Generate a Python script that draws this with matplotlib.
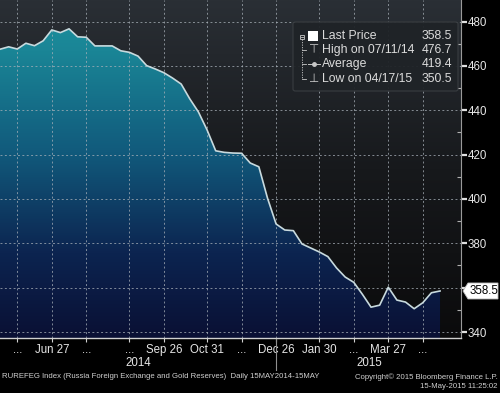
import numpy as np
import pandas as pd
import matplotlib
matplotlib.use("Agg")
import matplotlib.pyplot as plt
import matplotlib.dates as mdates
from matplotlib.colors import LinearSegmentedColormap
from matplotlib.patches import FancyBboxPatch, Rectangle, Polygon

plt.rcParams['font.family'] = ['Liberation Sans', 'DejaVu Sans']

# ---------------- data ----------------
start_date = "2014-05-16"
values = [467.5, 468.6, 467.6, 470.2, 469.1, 471.3, 476.2, 475.0, 476.7, 473.1,
          472.9, 469.0, 469.0, 469.0, 466.8, 466.1, 464.4, 460.1, 458.6, 456.9,
          454.5, 451.8, 445.1, 439.2, 431.1, 421.7, 421.0, 420.7, 420.6, 416.2,
          414.5, 400.4, 388.7, 386.0, 385.7, 379.7, 377.9, 376.1, 374.0, 368.9,
          364.8, 362.4, 357.0, 351.2, 352.1, 360.2, 354.4, 353.5, 350.5, 353.2,
          357.7, 358.5]
dates = pd.date_range(start_date, periods=len(values), freq="W-FRI")

tick_dates = ["2014-05-30", "2014-06-27", "2014-07-25", "2014-08-29", "2014-09-26",
              "2014-10-31", "2014-11-28", "2014-12-26", "2015-01-30", "2015-02-27",
              "2015-03-27", "2015-04-24"]
tick_labels = ["...", "Jun 27", "...", "...", "Sep 26", "Oct 31", "...",
               "Dec 26", "Jan 30", "...", "Mar 27", "..."]
y_ticks = [340, 360, 380, 400, 420, 440, 460, 480]
y_tick_labels = ["340", "", "380", "400", "420", "440", "460", "480"]

legend_names = ["Last Price", "High on 07/11/14", "Average", "Low on 04/17/15"]
legend_values = ["358.5", "476.7", "419.4", "350.5"]
last_value = "358.5"

# ---------------- figure ----------------
W, H = 500, 393
fig = plt.figure(figsize=(W / 100, H / 100), dpi=100, facecolor="black")
ax_l, ax_r, ax_b, ax_t = 0, 461, 338, 0
ax = fig.add_axes([ax_l / W, 1 - ax_b / H, (ax_r - ax_l) / W, (ax_b - ax_t) / H])
ax.set_facecolor("black")

x = mdates.date2num(dates.to_pydatetime())
xmin = mdates.date2num(pd.Timestamp("2014-05-16"))
xmax = mdates.date2num(pd.Timestamp("2015-05-25"))
ymin, ymax = 337.3, 489.7
ax.set_xlim(xmin, xmax)
ax.set_ylim(ymin, ymax)

# background gradient
bg_cmap = LinearSegmentedColormap.from_list("bg", ["#0b0b0c", "#17191c", "#2a2f35"])
grad = np.linspace(0, 1, 256).reshape(-1, 1)
ax.imshow(grad, aspect="auto", cmap=bg_cmap, origin="lower",
          extent=[xmin, xmax, ymin, ymax], zorder=0)

# fill gradient clipped to area under curve
fill_cmap = LinearSegmentedColormap.from_list(
    "fill", [(0, "#0a1034"), (0.25, "#0c2450"), (0.55, "#115a7c"), (0.85, "#1a8596"), (1, "#1d929f")])
im = ax.imshow(grad, aspect="auto", cmap=fill_cmap, origin="lower",
               extent=[xmin, xmax, ymin, ymax], zorder=1)
verts = np.vstack([np.column_stack([x, values]), [[x[-1], ymin], [x[0], ymin]]])
clip = Polygon(verts, closed=True, transform=ax.transData, facecolor="none", edgecolor="none")
ax.add_patch(clip)
im.set_clip_path(clip)

ax.plot(x, values, color="#c8dade", lw=1.2, zorder=4)

# grid
gkw = dict(color="#a8b0b8", lw=0.7, ls=(0, (2, 2.5)), alpha=0.75, zorder=3)
for yv in y_ticks:
    ax.axhline(yv, **gkw)
tick_nums = [mdates.date2num(pd.Timestamp(d)) for d in tick_dates]
for tv in tick_nums:
    ax.axvline(tv, **gkw)

# axes styling
for s in ["top", "left"]:
    ax.spines[s].set_visible(False)
ax.spines["bottom"].set_color("#d0d0d0")
ax.spines["right"].set_color("#9a9a9a")
ax.spines["bottom"].set_linewidth(1.0)
ax.yaxis.tick_right()
ax.set_yticks(y_ticks)
ax.set_yticklabels(y_tick_labels)
ax.set_yticks(np.arange(350, 490, 20), minor=True)
ax.tick_params(axis="y", which="major", colors="#e0e0e0", labelcolor="#e6e6e6",
               direction="out", length=4, width=1.6, labelsize=8.3, pad=1)
ax.tick_params(axis="y", which="minor", colors="#b0b0b0", direction="in", length=3, width=0.8)
ax.set_xticks(tick_nums)
ax.set_xticklabels(tick_labels)
ax.tick_params(axis="x", colors="#d0d0d0", labelcolor="#e6e6e6", direction="out",
               length=3, width=0.8, labelsize=8.3, pad=1.5)

# year labels and separator
fig.text(138 / W, 1 - 363 / H, "2014", color="#e6e6e6", fontsize=8.3, ha="center", va="center")
fig.text(369 / W, 1 - 363 / H, "2015", color="#e6e6e6", fontsize=8.3, ha="center", va="center")
sep_x = ax.transData.transform((mdates.date2num(pd.Timestamp("2014-12-26")), ymin))[0]
fig.add_artist(plt.Line2D([sep_x / W, sep_x / W], [1 - 339 / H, 1 - 370 / H],
                          color="#909090", lw=0.8))

# last price box
yl = ax.transData.transform((xmax, 358.5))[1]
yl_px = H - yl
pts = [[463, yl_px], [468, yl_px - 8], [498, yl_px - 8], [498, yl_px + 8], [468, yl_px + 8]]
box = Polygon(np.array([[px / W, 1 - py / H] for px, py in pts]), closed=True,
              facecolor="white", edgecolor="#bbbbbb", lw=0.6, transform=fig.transFigure)
fig.add_artist(box)
fig.text(483.5 / W, 1 - yl_px / H, last_value, color="black", fontsize=8.3, ha="center", va="center")

# legend
lg = FancyBboxPatch((293 / W, 1 - 91 / H), (458 - 293) / W, (91 - 22) / H,
                    boxstyle="round,pad=0,rounding_size=0.005", transform=fig.transFigure,
                    facecolor="#1f2327", edgecolor="#3a3e42", lw=0.8, alpha=0.95, zorder=5)
fig.add_artist(lg)
rows = [36, 50, 64, 79]
for i, (nm, vv) in enumerate(zip(legend_names, legend_values)):
    fig.text(322 / W, 1 - rows[i] / H, nm, color="#dcdcdc", fontsize=8.8, ha="left", va="center", zorder=6)
    fig.text(452 / W, 1 - rows[i] / H, vv, color="#dcdcdc", fontsize=8.8, ha="right", va="center", zorder=6)
# tree glyphs
tc = "#c8c8c8"
fig.add_artist(Rectangle((300 / W, 1 - 38.5 / H), 4 / W, 4 / H, transform=fig.transFigure,
                         facecolor="none", edgecolor=tc, lw=0.6, zorder=6))
fig.add_artist(plt.Line2D([301 / W, 303 / W], [1 - 36.5 / H, 1 - 36.5 / H], color=tc, lw=0.6, zorder=6))
fig.add_artist(plt.Line2D([302 / W, 302 / W], [1 - 39 / H, 1 - 79 / H], color=tc, lw=0.6, ls=(0, (1.5, 1.5)), zorder=6))
for r in rows[1:]:
    fig.add_artist(plt.Line2D([302 / W, 306 / W], [1 - r / H, 1 - r / H], color=tc, lw=0.6, zorder=6))
fig.add_artist(Rectangle((308 / W, 1 - 41 / H), 10 / W, 10 / H, transform=fig.transFigure,
                         facecolor="white", edgecolor="none", zorder=6))
fig.text(314 / W, 1 - 50 / H, "\u22a4", color=tc, fontsize=8.5, ha="center", va="center",
         family=["DejaVu Sans"], zorder=6)
fig.add_artist(plt.Line2D([308 / W, 320 / W], [1 - 64 / H, 1 - 64 / H], color=tc, lw=0.7, zorder=6))
fig.add_artist(plt.Line2D([314 / W], [1 - 64 / H], marker="o", ms=2.5, color=tc, zorder=6))
fig.text(314 / W, 1 - 79 / H, "\u22a5", color=tc, fontsize=8.5, ha="center", va="center",
         family=["DejaVu Sans"], zorder=6)

# footer
fig.text(2 / W, 1 - 377 / H,
         "RUREFEG Index (Russia Foreign Exchange and Gold Reserves)  Daily 15MAY2014-15MAY",
         color="#d0d0d0", fontsize=5.55, ha="left", va="center")
fig.text(498 / W, 1 - 377 / H, "Copyright\u00a9 2015 Bloomberg Finance L.P.",
         color="#d0d0d0", fontsize=5.55, ha="right", va="center")
fig.text(498 / W, 1 - 387 / H, "15-May-2015 11:25:02",
         color="#d0d0d0", fontsize=5.55, ha="right", va="center")

fig.savefig("out.png", dpi=100, facecolor="black")
